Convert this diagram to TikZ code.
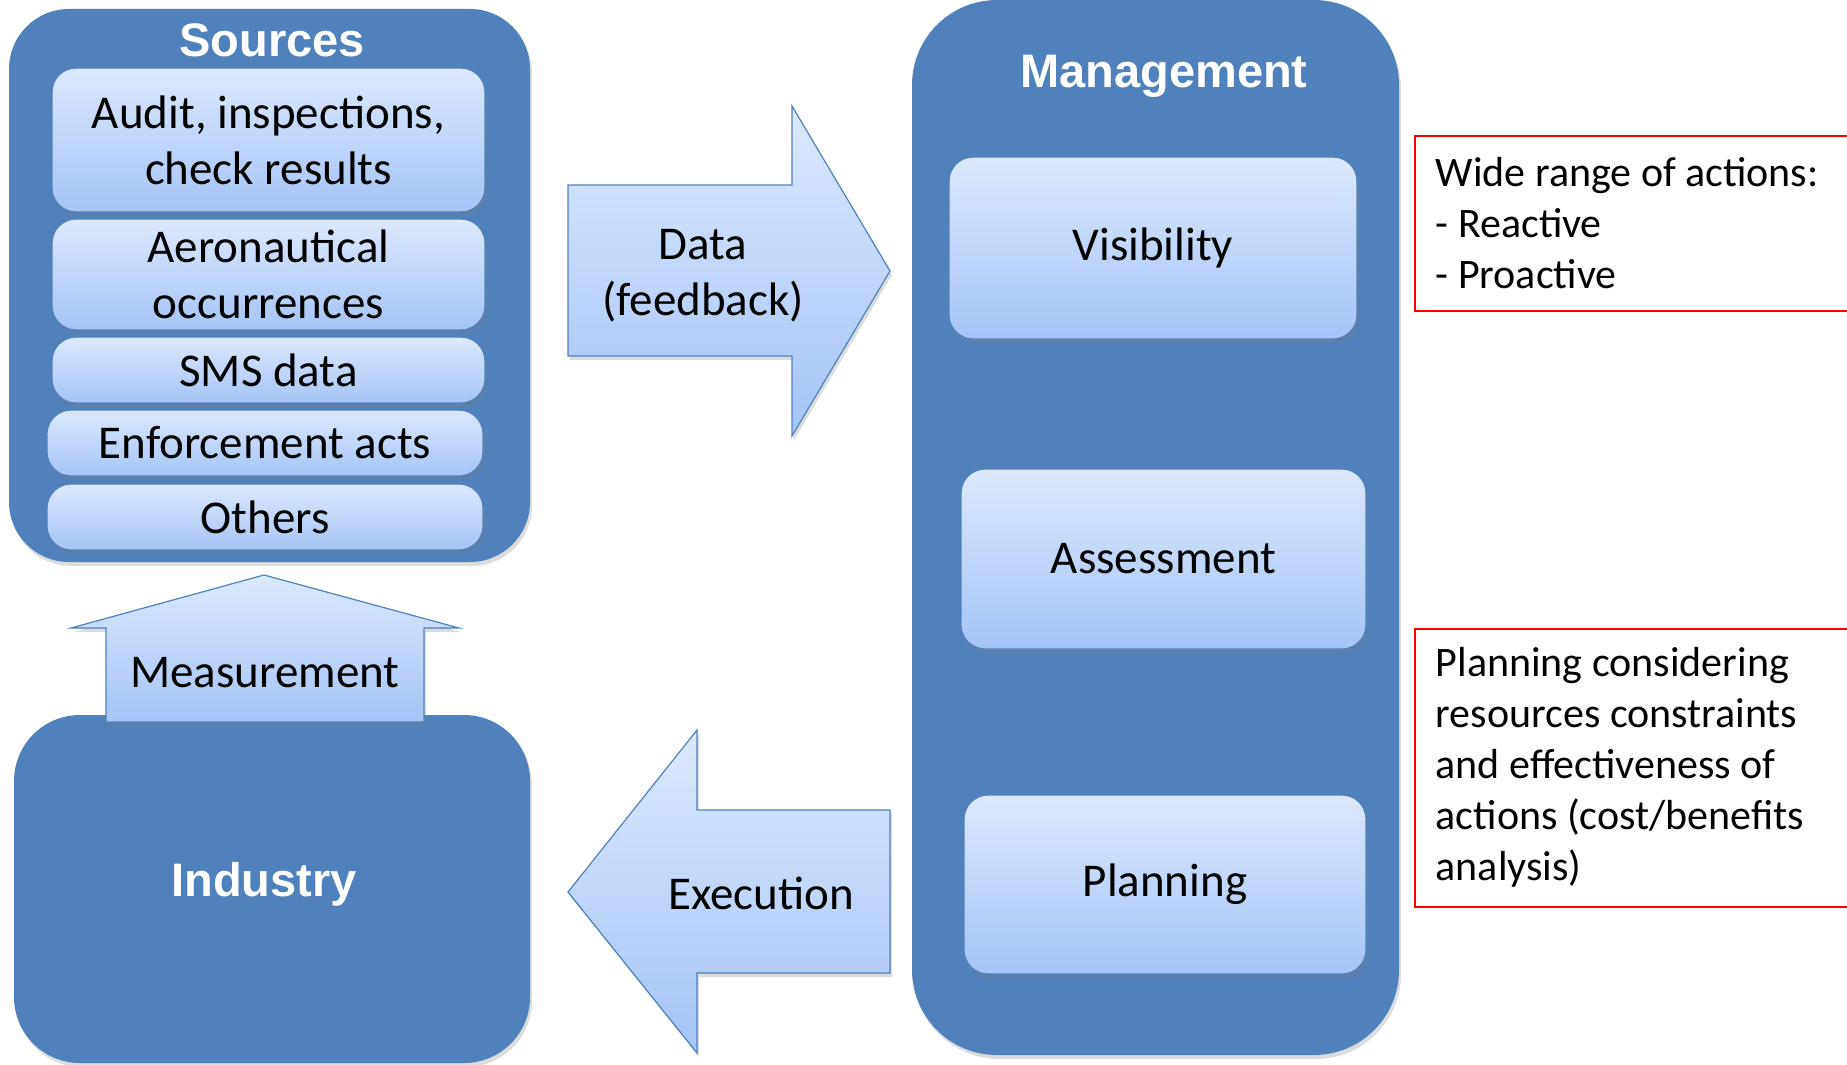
\documentclass[tikz,border=0pt]{standalone}
\usepackage{fontspec}
\setmainfont{Carlito}
\newfontfamily\headfont{Liberation Sans}
\usetikzlibrary{shadows,positioning}

\definecolor{panelblue}{HTML}{4F81BD}
\definecolor{paletop}{HTML}{DCE8FC}
\definecolor{palebot}{HTML}{A6C4F8}

\tikzset{
  softshadow/.style = {drop shadow={opacity=0.28, shadow xshift=2pt, shadow yshift=-4pt}},
  panel/.style = {rectangle, fill=panelblue, softshadow},
  item/.style = {rectangle, rounded corners=24pt, draw=panelblue, line width=1.2pt,
                 top color=paletop, bottom color=palebot, align=center, inner sep=0pt,
                 font=\fontsize{47}{56}\selectfont, softshadow},
  blockarrow/.style = {draw=panelblue, line width=1.2pt, top color=paletop,
                       bottom color=palebot, softshadow},
  heading/.style = {text=white, font=\headfont\bfseries\fontsize{47}{56}\selectfont},
  tag/.style = {align=center, font=\fontsize{47}{56}\selectfont},
  note/.style = {rectangle, draw=red, line width=1.5pt, anchor=north west, align=flush left,
                 inner xsep=21pt, text width=404pt, font=\fontsize{42}{51}\selectfont}
}

\begin{document}
\begin{tikzpicture}[x=1pt, y=-1pt]
  \useasboundingbox (0,0) rectangle (1847,1065);

  % sources of data
  \node[panel, rounded corners=60pt, minimum width=521pt, minimum height=553pt] (sources) at (269.5,285.5) {};
  \node[heading] (sourcestitle) at (272,40) {Sources};
  \node[item, minimum width=433pt, minimum height=144pt] (audit) at (268.5,140) {Audit, inspections,\\check results};
  \node[item, minimum width=433pt, minimum height=111pt] (aero) at (268.5,274.5) {Aeronautical\\occurrences};
  \node[item, minimum width=433pt, minimum height=66pt] (sms) at (268.5,370) {SMS data};
  \node[item, minimum width=436pt, minimum height=66pt] (enforce) at (265,443) {Enforcement acts};
  \node[item, minimum width=436pt, minimum height=66pt] (others) at (265,517) {Others};

  % industry
  \node[panel, rounded corners=66pt, minimum width=516pt, minimum height=348pt] (industry) at (272,889) {};
  \node[heading] (industrytitle) at (264,884) {Industry};

  % management
  \node[panel, rounded corners=85pt, minimum width=487pt, minimum height=1055pt] (management) at (1155.5,527.5) {};
  \node[heading] (managementtitle) at (1164,76) {Management};
  \node[item, minimum width=408pt, minimum height=182pt] (visibility) at (1153,248) {Visibility};
  \node[item, minimum width=405pt, minimum height=180pt] (assessment) at (1163.5,559) {Assessment};
  \node[item, minimum width=402pt, minimum height=179pt] (planning) at (1165,884.5) {Planning};

  % block arrows
  \path[blockarrow] (106,722) -- (106,628) -- (71,628) -- (264,575) -- (459,628)
    -- (424,628) -- (424,722) -- cycle;
  \node[tag] (measure) at (265,673) {Measurement};

  \path[blockarrow] (568,185) -- (792,185) -- (792,106) -- (890,271) -- (792,436)
    -- (792,356) -- (568,356) -- cycle;
  \node[tag] (data) at (703,276) {Data\\(feedback)};

  \path[blockarrow] (890,810) -- (697,810) -- (697,730) -- (568,892) -- (697,1053)
    -- (697,973) -- (890,973) -- cycle;
  \node[tag] (execution) at (761,893) {Execution};

  % remarks
  \node[note, minimum height=175pt] (actions) at (1414,135)
    {Wide range of actions:\\- Reactive\\- Proactive};
  \node[note, minimum height=278pt] (costs) at (1414,628)
    {Planning considering\\resources constraints\\and effectiveness of\\actions (cost/benefits\\analysis)};
\end{tikzpicture}
\end{document}
